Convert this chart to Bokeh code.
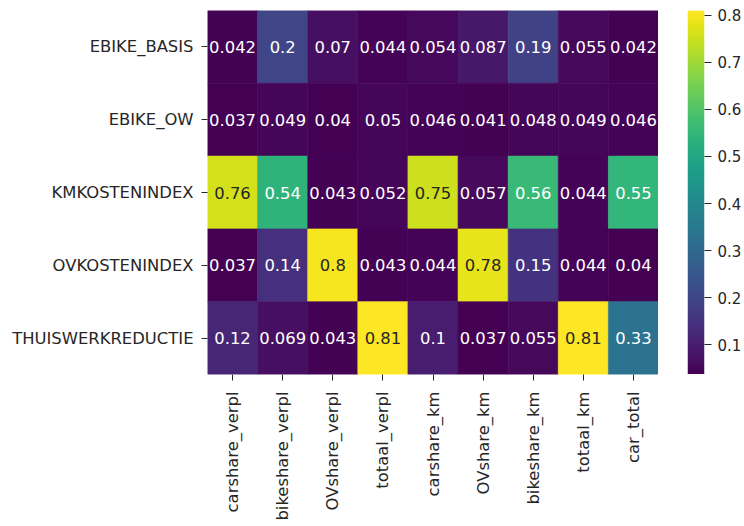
import math
import numpy as np
from bokeh.plotting import figure
from bokeh.layouts import row
from bokeh.models import ColumnDataSource, LinearColorMapper, FixedTicker, FactorRange, Range1d
from bokeh.palettes import Viridis256
from bokeh.core.properties import value
from bokeh.embed import file_html
from bokeh.resources import INLINE

rows = ["EBIKE_BASIS", "EBIKE_OW", "KMKOSTENINDEX", "OVKOSTENINDEX", "THUISWERKREDUCTIE"]
cols = ["carshare_verpl", "bikeshare_verpl", "OVshare_verpl", "totaal_verpl",
        "carshare_km", "OVshare_km", "bikeshare_km", "totaal_km", "car_total"]

ebike_basis = [0.042, 0.2, 0.07, 0.044, 0.054, 0.087, 0.19, 0.055, 0.042]
ebike_ow = [0.037, 0.049, 0.04, 0.05, 0.046, 0.041, 0.048, 0.049, 0.046]
kmkostenindex = [0.76, 0.54, 0.043, 0.052, 0.75, 0.057, 0.56, 0.044, 0.55]
ovkostenindex = [0.037, 0.14, 0.8, 0.043, 0.044, 0.78, 0.15, 0.044, 0.04]
thuiswerkreductie = [0.12, 0.069, 0.043, 0.81, 0.1, 0.037, 0.055, 0.81, 0.33]

cbar_ticks = [0.1, 0.2, 0.3, 0.4, 0.5, 0.6, 0.7, 0.8]

matrix = [ebike_basis, ebike_ow, kmkostenindex, ovkostenindex, thuiswerkreductie]
vals = np.array(matrix)
low, high = float(vals.min()), float(vals.max())

def lum_of(v):
    idx = int(round((v - low) / (high - low) * 255))
    h = Viridis256[max(0, min(255, idx))]
    rgb = [int(h[i:i + 2], 16) / 255 for i in (1, 3, 5)]
    lin = [c / 12.92 if c <= 0.03928 else ((c + 0.055) / 1.055) ** 2.4 for c in rgb]
    return 0.2126 * lin[0] + 0.7152 * lin[1] + 0.0722 * lin[2]

xs, ys, vs, labels, tcolors = [], [], [], [], []
for r, rowvals in zip(rows, matrix):
    for c, v in zip(cols, rowvals):
        xs.append(c)
        ys.append(r)
        vs.append(v)
        labels.append(format(v, ".2g"))
        tcolors.append("#262626" if lum_of(v) > 0.408 else "#ffffff")

src = ColumnDataSource(dict(x=xs, y=ys, v=vs, label=labels, tc=tcolors))
mapper = LinearColorMapper(palette=Viridis256, low=low, high=high)

FONT = "DejaVu Sans"
TXT = "#262626"

p = figure(x_range=FactorRange(*cols), y_range=FactorRange(*reversed(rows)),
           frame_width=451, frame_height=364, output_backend="svg", toolbar_location=None,
           min_border_left=207, min_border_top=10, min_border_right=0, min_border_bottom=0)
p.outline_line_color = None
p.background_fill_color = "white"
p.border_fill_color = "white"

p.rect(x="x", y="y", width=1, height=1, source=src,
       fill_color={"field": "v", "transform": mapper},
       line_color={"field": "v", "transform": mapper}, line_width=0.6)
p.text(x="x", y="y", text="label", source=src, text_color="tc",
       text_align="center", text_baseline="middle",
       text_font=value(FONT), text_font_size="16.4px")

for ax in (p.xaxis[0], p.yaxis[0]):
    ax.axis_line_color = None
    ax.major_tick_line_color = TXT
    ax.major_tick_out = 6
    ax.major_tick_in = 0
    ax.minor_tick_line_color = None
    ax.major_label_text_font = FONT
    ax.major_label_text_font_size = "16.4px"
    ax.major_label_text_color = TXT
p.yaxis.major_label_standoff = 8
p.xaxis.major_label_standoff = 11
p.xaxis.major_label_orientation = math.pi / 2
p.xgrid.grid_line_color = None
p.ygrid.grid_line_color = None

# colour bar as its own small figure
pc = figure(x_range=Range1d(0, 1), y_range=Range1d(low, high),
            frame_width=17, frame_height=364, output_backend="svg", toolbar_location=None,
            x_axis_location=None, y_axis_location="right",
            min_border_left=29, min_border_top=10, min_border_right=0, min_border_bottom=0)
pc.outline_line_color = None
pc.xgrid.grid_line_color = None
pc.ygrid.grid_line_color = None
grad = np.linspace(low, high, 256).reshape(256, 1)
pc.image(image=[grad], x=0, y=low, dw=1, dh=high - low, color_mapper=mapper)
pc.yaxis.ticker = FixedTicker(ticks=cbar_ticks)
pc.yaxis.axis_line_color = None
pc.yaxis.major_tick_line_color = TXT
pc.yaxis.major_tick_out = 7
pc.yaxis.major_tick_in = 0
pc.yaxis.minor_tick_line_color = None
pc.yaxis.major_label_standoff = 6
pc.yaxis.major_label_text_font = FONT
pc.yaxis.major_label_text_font_size = "15px"
pc.yaxis.major_label_text_color = TXT

layout = row(p, pc)
open("out.html", "w").write(file_html(layout, INLINE))
